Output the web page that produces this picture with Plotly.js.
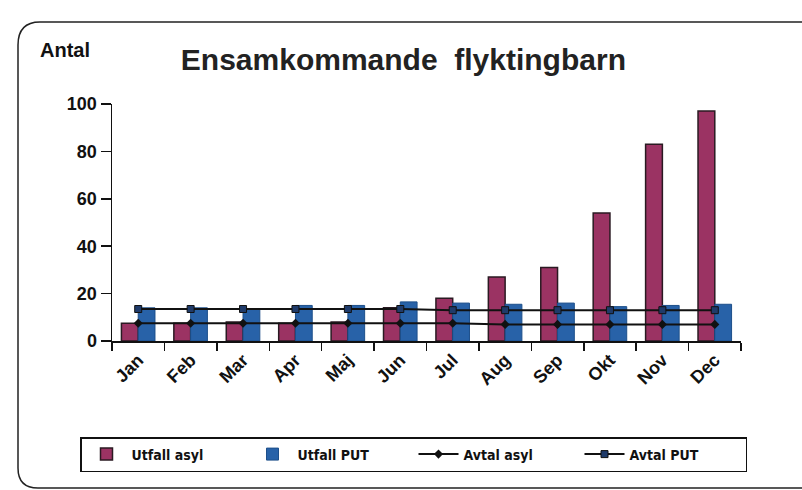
<!DOCTYPE html>
<html>
<head>
<meta charset="utf-8">
<script src="https://cdn.plot.ly/plotly-3.0.1.min.js"></script>
<style>
html,body{margin:0;padding:0;background:#fff;}
#chart{width:802px;height:490px;}
</style>
</head>
<body>
<div id="chart"></div>
<script>
const months = ["Jan","Feb","Mar","Apr","Maj","Jun","Jul","Aug","Sep","Okt","Nov","Dec"];
const utfallAsyl = [7.5, 7.5, 8, 7.5, 8, 14, 18, 27, 31, 54, 83, 97];
const utfallPUT  = [14, 14, 13.5, 15, 15, 16.5, 16, 15.5, 16, 14.5, 15, 15.5];
const avtalAsyl  = [7.5, 7.5, 7.5, 7.5, 7.5, 7.5, 7.5, 7, 7, 7, 7, 7];
const avtalPUT   = [13.5, 13.5, 13.5, 13.5, 13.5, 13.5, 13, 13, 13, 13, 13, 13];
const yTicks = [0, 20, 40, 60, 80, 100];

const F = "Liberation Sans, Arial, sans-serif";
const FN = "DejaVu Sans Condensed, Liberation Sans Narrow, Arial Narrow, sans-serif";

const traces = [
  {type:"bar", name:"<b>Utfall asyl</b>", x:months, y:utfallAsyl,
   marker:{color:"#9b3363", line:{color:"#2a1a22", width:1.5}}},
  {type:"bar", name:"<b>Utfall PUT</b>", x:months, y:utfallPUT,
   marker:{color:"#2862a8", line:{color:"#1d4f8a", width:1}}},
  {type:"scatter", mode:"lines+markers", name:"<b>Avtal asyl</b>", x:months, y:avtalAsyl,
   line:{color:"#111", width:2}, marker:{symbol:"diamond", size:7, color:"#111"}},
  {type:"scatter", mode:"lines+markers", name:"<b>Avtal PUT</b>", x:months, y:avtalPUT,
   line:{color:"#111", width:2}, marker:{symbol:"square", size:7, color:"#1f3b6a", line:{color:"#111",width:1}}}
];

// plot area: x 112..741, y 104..341
const L = 112, T = 104, W = 629, H = 237;
const px = v => (v - L) / W;
const py = v => (T + H - v) / H;

const borderPath = `M ${px(802)},${py(22)} L ${px(40)},${py(22)} Q ${px(18)},${py(22)} ${px(18)},${py(45)} L ${px(18)},${py(468)} Q ${px(18)},${py(488)} ${px(38)},${py(488)} L ${px(802)},${py(488)}`;

const layout = {
  width:802, height:490,
  margin:{l:L, r:802-L-W, t:T, b:490-T-H, autoexpand:false},
  paper_bgcolor:"#fff", plot_bgcolor:"#fff",
  font:{family:F, color:"#111"},
  title:{text:"<b>Ensamkommande  flyktingbarn</b>", font:{family:F, size:30, color:"#222"},
         x:0.503, xref:"container", y:1-59/490, yref:"container", xanchor:"center", yanchor:"middle"},
  barmode:"group", bargap:0.36, bargroupgap:0,
  showlegend:true,
  legend:{orientation:"h", x:px(80), y:py(437), xanchor:"left", yanchor:"top",
          bordercolor:"#111", borderwidth:1.5, bgcolor:"#fff",
          font:{family:FN, size:14, color:"#111"}, entrywidth:111, entrywidthmode:"pixels",
          itemwidth:40, traceorder:"normal"},
  xaxis:{type:"category", range:[-0.5, 11.5], showline:true, linecolor:"#111", linewidth:1.5,
         ticks:"outside", ticklen:8, tickcolor:"#111", tickwidth:1.5, tickson:"boundaries",
         tickangle:-45, tickfont:{family:F, size:18, color:"#111"}, automargin:false,
         showgrid:false, zeroline:false, fixedrange:true},
  yaxis:{range:[0,100], tickvals:yTicks, ticktext:yTicks.map(v=>"<b>"+v+"</b>"),
         showline:true, linecolor:"#111", linewidth:1.5, automargin:false,
         ticks:"outside", ticklen:10, tickcolor:"#111", tickwidth:1.5,
         tickfont:{family:F, size:18, color:"#111"},
         showgrid:false, zeroline:false, fixedrange:true},
  annotations:[{text:"<b>Antal</b>", xref:"paper", yref:"paper", x:px(38), y:py(50),
                xanchor:"left", yanchor:"middle", showarrow:false,
                font:{family:F, size:20, color:"#111"}}],
  shapes:[{type:"path", xref:"paper", yref:"paper", path:borderPath,
           line:{color:"#222", width:1.5}, layer:"above"}]
};

layout.xaxis.tickvals = months;
layout.xaxis.ticktext = months.map(m => "<b>"+m+"</b>");

Plotly.newPlot("chart", traces, layout, {displayModeBar:false, staticPlot:true});
</script>
</body>
</html>
